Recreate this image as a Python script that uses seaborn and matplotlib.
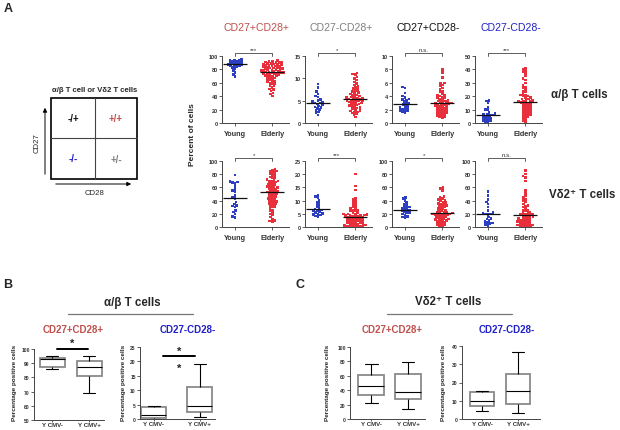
import numpy as np
import pandas as pd
import matplotlib
matplotlib.use("Agg")
import matplotlib.pyplot as plt
import seaborn as sns

sns.set_style("ticks")
plt.rcParams["font.family"] = ["Liberation Sans", "DejaVu Sans"]

W, H = 620, 431

# ---- panel A data: percent of cells (young vs elderly) ----
groups = ["Young", "Elderly"]

ab_cd27p_cd28p_young = [95, 94, 94, 93, 92, 92, 91, 90, 90, 89, 88, 88, 87, 87, 86, 85, 85, 84, 83, 81, 78, 75, 72, 69]
ab_cd27p_cd28p_elderly = [93, 92, 92, 91, 91, 90, 90, 89, 89, 88, 88, 87, 87, 86, 86, 85, 85, 84, 84, 83, 83, 82, 82,
                          81, 81, 80, 80, 79, 79, 78, 78, 77, 77, 76, 76, 75, 75, 75, 74, 74, 73, 73, 72, 72, 71, 70,
                          70, 69, 68, 67, 66, 65, 64, 63, 62, 61, 60, 59, 58, 56, 55, 53, 51, 50, 48, 45, 43, 40]

ab_cd27m_cd28p_young = [8.7, 8.0, 7.0, 6.5, 6.0, 5.8, 5.3, 5.0, 4.8, 4.6, 4.5, 4.5, 4.3, 4.0, 3.8, 3.6, 3.5, 3.3, 3.0,
                        2.8, 2.5, 2.2, 1.8]
ab_cd27m_cd28p_elderly = [11.2, 11.0, 10.8, 10.3, 10.0, 9.6, 9.2, 8.8, 8.5, 8.2, 8.0, 7.7, 7.5, 7.3, 7.0, 6.8, 6.6,
                          6.5, 6.3, 6.2, 6.0, 5.9, 5.8, 5.7, 5.6, 5.6, 5.5, 5.4, 5.3, 5.2, 5.1, 5.0, 5.0, 4.9, 4.8,
                          4.7, 4.6, 4.5, 4.4, 4.3, 4.2, 4.0, 3.9, 3.8, 3.6, 3.5, 3.4, 3.2, 3.0, 2.8, 2.7, 2.5, 2.4,
                          2.2, 2.0, 1.8, 1.3]

ab_cd27p_cd28m_young = [5.4, 5.2, 4.5, 4.0, 3.8, 3.6, 3.5, 3.4, 3.2, 3.0, 2.9, 2.8, 2.6, 2.5, 2.3, 2.2, 2.1, 2.0,
                        1.9, 1.8, 1.7, 1.6]
ab_cd27p_cd28m_elderly = [8.0, 7.5, 6.8, 6.0, 5.9, 5.7, 5.5, 5.2, 5.0, 4.8, 4.6, 4.4, 4.2, 4.1, 4.0, 3.9, 3.8, 3.7,
                          3.6, 3.5, 3.4, 3.3, 3.3, 3.2, 3.1, 3.0, 3.0, 2.9, 2.9, 2.8, 2.8, 2.7, 2.6, 2.5, 2.5, 2.4,
                          2.3, 2.2, 2.1, 2.0, 2.0, 1.9, 1.8, 1.7, 1.6, 1.6, 1.5, 1.4, 1.3, 1.2, 1.1, 1.0, 0.9, 0.8]

ab_cd27m_cd28m_young = [17, 16.5, 15, 12, 10, 10, 8, 7, 6.5, 6.2, 6, 5.8, 5, 4.5, 4, 3.5, 3, 2.5, 2, 1.5, 1, 0.5]
ab_cd27m_cd28m_elderly = [41, 40, 39, 38, 37, 35, 33, 32, 30, 28, 27, 26, 25, 24, 23, 22, 21, 21, 20, 20, 19, 19, 18,
                          18, 17, 17, 16.5, 16, 16, 15.5, 15, 15, 14, 14, 13, 13, 12, 12, 11, 11, 10, 10, 9, 9, 8, 8,
                          7, 7, 6, 6, 5, 5, 4, 3, 2, 1]

vd2_cd27p_cd28p_young = [79, 69, 68, 67, 66, 62, 58, 55, 54, 48, 45, 43, 38, 35, 33, 32, 30, 25, 23, 20, 16, 14]
vd2_cd27p_cd28p_elderly = [87, 86, 85, 84, 83, 82, 80, 79, 78, 76, 75, 74, 72, 71, 70, 70, 69, 68, 67, 66, 65, 64, 63,
                           62, 61, 60, 60, 59, 58, 57, 56, 55, 54, 53, 53, 52, 51, 50, 49, 48, 47, 46, 45, 44, 43, 42,
                           41, 40, 39, 38, 37, 36, 35, 34, 33, 31, 30, 28, 26, 24, 22, 20, 18, 15, 12, 10, 9, 8]

vd2_cd27m_cd28p_young = [12, 11.5, 11, 10, 9.5, 9, 8.5, 8, 7.5, 7, 6.8, 6.5, 6.3, 6, 5.8, 5.5, 5.2, 5, 4.8, 4.5,
                         4.2, 4]
vd2_cd27m_cd28p_elderly = [20, 15.5, 14, 11, 10.5, 10, 9.5, 9, 8.5, 8, 7.5, 7, 7, 6.5, 6.5, 6, 6, 5.5, 5.5, 5, 5, 5,
                           4.8, 4.6, 4.5, 4.4, 4.3, 4.2, 4.1, 4, 3.8, 3.6, 3.5, 3.4, 3.2, 3, 3, 2.8, 2.6, 2.5, 2.4,
                           2.2, 2, 2, 1.8, 1.6, 1.5, 1.4, 1.2, 1, 1, 0.8, 0.6, 0.5, 0.4, 0.3, 0.2, 0.1, 0, 0]

vd2_cd27p_cd28m_young = [45, 43, 40, 37, 35, 33, 31, 30, 29, 28, 27, 26, 25, 24, 23, 22, 21, 20, 18, 16, 15, 14]
vd2_cd27p_cd28m_elderly = [60, 58, 55, 46, 45, 43, 42, 41, 40, 38, 37, 36, 35, 34, 33, 32, 31, 30, 29, 28, 27, 26, 25,
                           24, 23, 22, 22, 21, 21, 20, 20, 20, 19, 19, 18, 18, 17, 16, 15, 15, 14, 13, 12, 12, 11, 10,
                           10, 9, 8, 7, 6, 5, 4, 3, 2, 1]

vd2_cd27m_cd28m_young = [54, 48, 42, 38, 35, 30, 25, 22, 21, 20, 20, 19, 15, 13, 12, 10, 8, 7, 6, 5, 4, 2]
vd2_cd27m_cd28m_elderly = [86, 80, 77, 75, 70, 56, 52, 48, 45, 42, 40, 38, 35, 33, 32, 30, 28, 26, 25, 24, 23, 22, 21,
                           20, 20, 19, 19, 18, 17, 16, 15, 15, 14, 13, 13, 12, 11, 10, 10, 9, 8, 8, 7, 6, 5, 5, 4, 3,
                           3, 2, 2, 1, 1, 0]

subsets = ["CD27+CD28+", "CD27-CD28+", "CD27+CD28-", "CD27-CD28-"]
subset_colors = ["#c0504d", "#808080", "#111111", "#2020c8"]
row_titles = ["\u03b1/\u03b2 T cells", "V\u03b42\u207a T cells"]
sig_ab = ["***", "*", "n.s.", "***"]
sig_vd2 = ["*", "***", "*", "n.s."]
ymax_ab = [100, 15, 10, 50]
ystep_ab = [20, 5, 2, 10]
ymax_vd2 = [100, 25, 100, 100]
ystep_vd2 = [20, 5, 20, 20]

# ---- panels B / C data: five-number summaries (min, q1, median, q3, max) ----
cmv_groups = ["Y CMV-", "Y CMV+"]
b_cd27p_cd28p = {"Y CMV-": [86, 87.5, 93, 94, 95.3], "Y CMV+": [69, 81, 87.3, 91.4, 95.3]}
b_cd27m_cd28m = {"Y CMV-": [0, 0.45, 1.4, 4.2, 4.5], "Y CMV+": [0.8, 2.5, 4.5, 11, 19]}
c_cd27p_cd28p = {"Y CMV-": [21.8, 32.9, 45.8, 60.6, 76], "Y CMV+": [14.4, 27.8, 37, 63, 78.7]}
c_cd27m_cd28m = {"Y CMV-": [4.4, 7.3, 9.9, 15, 15.2], "Y CMV+": [3.3, 8.4, 15.3, 24.5, 36.9]}

young_color = "#2b3fc0"
elderly_color = "#e8303c"

fig = plt.figure(figsize=(W / 100, H / 100), dpi=100)

bg = fig.add_axes([0, 0, 1, 1])
bg.set_xlim(0, W)
bg.set_ylim(H, 0)
bg.axis("off")


def ax_px(x0, y_top, x1, y_bot):
    return fig.add_axes([x0 / W, 1 - y_bot / H, (x1 - x0) / W, (y_bot - y_top) / H])


def style_axis(ax, ylabel_fs=4):
    sns.despine(ax=ax)
    for s in ["left", "bottom"]:
        ax.spines[s].set_color("#444444")
        ax.spines[s].set_linewidth(0.7)
    ax.tick_params(axis="both", length=2, width=0.6, color="#444444", pad=1)
    for lab in ax.get_yticklabels():
        lab.set_fontsize(ylabel_fs)
        lab.set_fontweight("bold")
        lab.set_color("#333333")
    ax.set_xlabel("")
    ax.set_ylabel("")


# ---- panel A: schematic ----
bg.text(4, 9, "A", fontsize=9, fontweight="bold", va="center")
bg.text(95, 90, "\u03b1/\u03b2 T cell or V\u03b42 T cells", fontsize=5.6, fontweight="bold", ha="center", va="center")
bg.add_patch(plt.Rectangle((51, 99), 86, 81, fill=False, lw=1.2, ec="black"))
bg.plot([95, 95], [99, 180], color="#444444", lw=0.8)
bg.plot([51, 137], [139, 139], color="#444444", lw=0.8)
quad = [(73, 119, "-/+", "#111111"), (116, 119, "+/+", "#c0504d"),
        (73, 159, "-/-", "#2020c8"), (116, 160, "+/-", "#808080")]
for qx, qy, qs, qc in quad:
    bg.text(qx, qy, qs, color=qc, fontsize=7, fontweight="bold", ha="center", va="center")
bg.annotate("", xy=(45, 106), xytext=(45, 178),
            arrowprops=dict(arrowstyle="-|>", color="black", lw=0.7, mutation_scale=6))
bg.annotate("", xy=(134, 185), xytext=(53, 185),
            arrowprops=dict(arrowstyle="-|>", color="black", lw=0.7, mutation_scale=6))
bg.text(37, 143, "CD27", rotation=90, fontsize=5.6, ha="center", va="center")
bg.text(95, 194, "CD28", fontsize=5.6, ha="center", va="center")

# column headers and row titles
header_x = [257, 341, 428, 511]
for hx, txt, col in zip(header_x, subsets, subset_colors):
    bg.text(hx, 28, txt, color=col, fontsize=7.6, ha="center", va="center")
bg.text(551, 95, row_titles[0], fontsize=8.3, fontweight="bold", va="center")
bg.text(549, 195, row_titles[1], fontsize=8.3, fontweight="bold", va="center")
bg.text(193, 135, "Percent of cells", rotation=90, fontsize=6, fontweight="bold", ha="center", va="center")

rows = [
    ([ab_cd27p_cd28p_young, ab_cd27m_cd28p_young, ab_cd27p_cd28m_young, ab_cd27m_cd28m_young],
     [ab_cd27p_cd28p_elderly, ab_cd27m_cd28p_elderly, ab_cd27p_cd28m_elderly, ab_cd27m_cd28m_elderly],
     ymax_ab, ystep_ab, sig_ab, (57, 124)),
    ([vd2_cd27p_cd28p_young, vd2_cd27m_cd28p_young, vd2_cd27p_cd28m_young, vd2_cd27m_cd28m_young],
     [vd2_cd27p_cd28p_elderly, vd2_cd27m_cd28p_elderly, vd2_cd27p_cd28m_elderly, vd2_cd27m_cd28m_elderly],
     ymax_vd2, ystep_vd2, sig_vd2, (162, 228)),
]
col_x0 = [222, 305, 392, 475]

for young_list, elderly_list, ymaxs, ysteps, sigs, (ytop, ybot) in rows:
    for j in range(4):
        ax = ax_px(col_x0[j], ytop, col_x0[j] + 67, ybot)
        y_vals, e_vals = young_list[j], elderly_list[j]
        df = pd.DataFrame({"group": ["Young"] * len(y_vals) + ["Elderly"] * len(e_vals),
                           "value": y_vals + e_vals})
        sns.swarmplot(data=df, x="group", y="value", hue="group", order=groups,
                      palette={"Young": young_color, "Elderly": elderly_color},
                      size=1.85, marker="s", linewidth=0, legend=False, ax=ax, warn_thresh=1.0)
        for i, vals in enumerate([y_vals, e_vals]):
            ax.hlines(np.median(vals), i - 0.32, i + 0.32, color="#111111", lw=0.9, zorder=5)
        ymax = ymaxs[j]
        ax.set_ylim(0, ymax)
        ax.set_yticks(np.arange(0, ymax + 0.01, ysteps[j]))
        ax.set_xlim(-0.35, 1.45)
        style_axis(ax)
        for lab in ax.get_xticklabels():
            lab.set_fontsize(5.2)
            lab.set_fontweight("bold")
            lab.set_color("#333333")
        ax.tick_params(axis="x", pad=3)
        yb = ymax * 1.045
        ax.plot([0, 0, 1, 1], [ymax * 1.005, yb, yb, ymax * 1.005], color="#444444", lw=0.6, clip_on=False)
        ax.text(0.5, yb + ymax * 0.01, sigs[j], fontsize=4.5, ha="center", va="bottom", color="#333333")

# ---- panels B and C: box plots ----
bg.text(3, 285, "B", fontsize=9, fontweight="bold", va="center")
bg.text(296, 285, "C", fontsize=9, fontweight="bold", va="center")
bg.text(132, 303, row_titles[0], fontsize=8.3, fontweight="bold", ha="center", va="center")
bg.text(448, 302, row_titles[1], fontsize=8.3, fontweight="bold", ha="center", va="center")
bg.plot([68, 193], [315, 315], color="#777777", lw=0.9)
bg.plot([387, 512], [315, 315], color="#777777", lw=0.9)
for sx, txt, col in [(73, subsets[0], "#c0504d"), (188, subsets[3], "#2020c8"),
                     (392, subsets[0], "#c0504d"), (507, subsets[3], "#2020c8")]:
    bg.text(sx, 330, txt, color=col, fontsize=7, fontweight="bold", ha="center", va="center")
for lx in [15, 124, 327, 443]:
    bg.text(lx, 383, "Percentage positive cells", rotation=90, fontsize=4.6, fontweight="bold",
            ha="center", va="center")

box_specs = [
    (b_cd27p_cd28p, (34, 350, 104, 421), (-0.49, 1.4), 0.68, (50, 100), 10),
    (b_cd27m_cd28m, (140, 348, 215, 420), (-0.3, 1.33), 0.54, (0, 25), 5),
    (c_cd27p_cd28p, (350, 348, 425, 420), (-0.57, 1.46), 0.7, (0, 100), 20),
    (c_cd27m_cd28m, (462, 347, 540, 420), (-0.55, 1.6), 0.66, (0, 40), 10),
]
box_axes = []
for summary, (x0, y0, x1, y1), xlim, bw, ylim, ystep in box_specs:
    ax = ax_px(x0, y0, x1, y1)
    df = pd.DataFrame({"group": [g for g in cmv_groups for _ in summary[g]],
                       "value": [v for g in cmv_groups for v in summary[g]]})
    sns.boxplot(data=df, x="group", y="value", order=cmv_groups, whis=(0, 100), width=bw,
                color="white", linecolor="black", linewidth=0.8, showfliers=False, ax=ax,
                boxprops=dict(edgecolor="#8a8a8a", linewidth=1.3))
    ax.set_xlim(*xlim)
    ax.set_ylim(*ylim)
    ax.set_yticks(np.arange(ylim[0], ylim[1] + 0.01, ystep))
    style_axis(ax, ylabel_fs=3.6)
    ax.tick_params(axis="x", length=1.2, pad=0.5)
    for lab in ax.get_xticklabels():
        lab.set_fontsize(4.4)
        lab.set_fontweight("bold")
        lab.set_color("#333333")
    box_axes.append(ax)

# significance marks on panel B
box_axes[0].plot([0.14, 0.97], [100, 100], color="black", lw=1.4, clip_on=False)
box_axes[0].text(0.55, 100.5, "*", fontsize=8, fontweight="bold", ha="center", va="bottom")
box_axes[1].plot([0.2, 0.9], [21.8, 21.8], color="black", lw=1.4, clip_on=False)
box_axes[1].text(0.55, 22.0, "*", fontsize=8, fontweight="bold", ha="center", va="bottom")
box_axes[1].text(0.55, 16.0, "*", fontsize=8, fontweight="bold", ha="center", va="bottom")

fig.savefig("out.png", dpi=100)
